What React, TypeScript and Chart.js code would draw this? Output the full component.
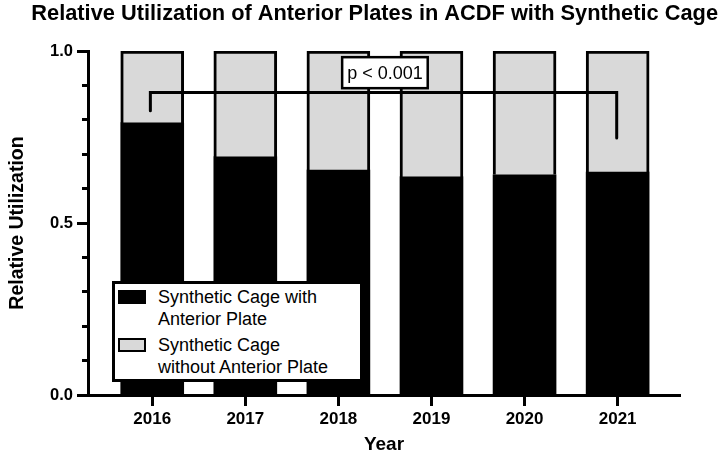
import React, { useEffect, useRef } from "react";
import { Chart, registerables } from "chart.js";

Chart.register(...registerables);

const chartTitle = "Relative Utilization of Anterior Plates in ACDF with Synthetic Cage";
const xAxisTitle = "Year";
const yAxisTitle = "Relative Utilization";
const years = [2016, 2017, 2018, 2019, 2020, 2021];
const yearLabels = ["2016", "2017", "2018", "2019", "2020", "2021"];
const withPlate = [0.791, 0.692, 0.654, 0.634, 0.64, 0.648];
const withoutPlate = [0.209, 0.308, 0.346, 0.366, 0.36, 0.352];
const seriesLines = [
  ["Synthetic Cage with", "Anterior Plate"],
  ["Synthetic Cage", "without Anterior Plate"],
];
const seriesColors = ["#000000", "#d9d9d9"];
const yMajorTicks = [0, 0.5, 1.0];
const yMinorTicks = [0, 0.1, 0.2, 0.3, 0.4, 0.5, 0.6, 0.7, 0.8, 0.9, 1.0];
const xRange = [2015.31, 2021.67];
const bracketX = [2015.98, 2015.98, 2020.99, 2020.99];
const bracketY = [0.826, 0.879, 0.879, 0.747];
const pValueText = "p < 0.001";
const pValueX = 2018.5;
const pValueY = 0.937;

const FONT = '"Liberation Sans", Arial, Helvetica, sans-serif';

const pLabelPlugin = {
  id: "pLabel",
  afterDatasetsDraw(chart: any) {
    const { ctx, scales } = chart;
    const cx = scales.x.getPixelForValue(pValueX);
    const cy = scales.y.getPixelForValue(pValueY);
    ctx.save();
    ctx.font = `18px ${FONT}`;
    const tw = ctx.measureText(pValueText).width;
    const w = tw + 10;
    const h = 31;
    ctx.fillStyle = "#ffffff";
    ctx.fillRect(cx - w / 2, cy - h / 2, w, h);
    ctx.lineWidth = 2.5;
    ctx.strokeStyle = "#000000";
    ctx.strokeRect(cx - w / 2, cy - h / 2, w, h);
    ctx.fillStyle = "#000000";
    ctx.textAlign = "center";
    ctx.textBaseline = "middle";
    ctx.fillText(pValueText, cx, cy + 1);
    ctx.restore();
  },
};

export default function App() {
  const canvasRef = useRef<HTMLCanvasElement | null>(null);

  useEffect(() => {
    if (!canvasRef.current) return;
    const chart = new Chart(canvasRef.current, {
      type: "bar",
      data: {
        datasets: [
          {
            type: "line",
            label: "bracket",
            data: bracketX.map((x, i) => ({ x, y: bracketY[i] })),
            borderColor: "#000000",
            borderWidth: 3,
            pointRadius: 0,
            fill: false,
            tension: 0,
            order: -1,
            stack: "bracket",
            borderCapStyle: "round",
            borderJoinStyle: "miter",
          } as any,
          {
            type: "bar",
            label: seriesLines[0].join(" "),
            data: years.map((x, i) => ({ x, y: withPlate[i] })),
            backgroundColor: seriesColors[0],
            borderWidth: 0,
            barThickness: 63,
          } as any,
          {
            type: "bar",
            label: seriesLines[1].join(" "),
            data: years.map((x, i) => ({ x, y: withoutPlate[i] })),
            backgroundColor: seriesColors[1],
            borderColor: "#000000",
            borderWidth: 3,
            barThickness: 63,
          } as any,
        ],
      },
      options: {
        animation: false,
        responsive: false,
        layout: { padding: { left: 0, right: 4, top: 0, bottom: 0 } },
        plugins: {
          legend: { display: false },
          tooltip: { enabled: false },
          title: {
            display: true,
            text: chartTitle,
            color: "#000000",
            align: "end",
            font: { family: FONT, size: 21.8, weight: "bold" },
            padding: { top: 1, bottom: 51 - 1 - 21.8 * 1.2 },
          },
        },
        scales: {
          x: {
            type: "linear",
            min: xRange[0],
            max: xRange[1],
            stacked: true,
            offset: false,
            afterBuildTicks: (s: any) => {
              s.ticks = years.map((v) => ({ value: v }));
            },
            afterFit: (s: any) => {
              s.height = 61;
            },
            grid: {
              display: true,
              offset: false,
              drawOnChartArea: false,
              drawTicks: true,
              tickLength: 11,
              tickWidth: 3,
              tickColor: "#000000",
            },
            border: { display: true, color: "#000000", width: 3 },
            ticks: {
              callback: (v: any) => yearLabels[years.indexOf(Number(v))] ?? "",
              color: "#000000",
              font: { family: FONT, size: 17, weight: "bold" },
              padding: 3,
              maxRotation: 0,
              autoSkip: false,
            },
            title: {
              display: true,
              text: xAxisTitle,
              color: "#000000",
              font: { family: FONT, size: 19, weight: "bold" },
              padding: { top: 0, bottom: 0 },
            },
          },
          y: {
            type: "linear",
            position: "left",
            min: 0,
            max: 1,
            stacked: true,
            weight: 1,
            afterBuildTicks: (s: any) => {
              s.ticks = yMajorTicks.map((v) => ({ value: v }));
            },
            afterFit: (s: any) => {
              s.width = 88;
            },
            grid: {
              display: true,
              drawOnChartArea: false,
              tickLength: 11,
              tickWidth: 3,
              tickColor: "#000000",
            },
            border: { display: true, color: "#000000", width: 3 },
            ticks: {
              callback: (v: any) => Number(v).toFixed(1),
              color: "#000000",
              font: { family: FONT, size: 16.5, weight: "bold" },
              padding: 4,
            },
            title: {
              display: true,
              text: yAxisTitle,
              color: "#000000",
              font: { family: FONT, size: 19.5, weight: "bold" },
              padding: { top: 6, bottom: 0 },
            },
          },
          yMinor: {
            type: "linear",
            position: "left",
            min: 0,
            max: 1,
            weight: 0,
            afterBuildTicks: (s: any) => {
              s.ticks = yMinorTicks.map((v) => ({ value: v }));
            },
            afterFit: (s: any) => {
              s.width = 0;
            },
            grid: {
              display: true,
              drawOnChartArea: false,
              tickLength: 6,
              tickWidth: 3,
              tickColor: "#000000",
            },
            border: { display: false },
            ticks: { display: false },
          },
          padRight: {
            type: "linear",
            position: "right",
            min: 0,
            max: 1,
            afterFit: (s: any) => {
              s.width = 38;
            },
            grid: { display: false },
            border: { display: false },
            ticks: { display: false },
          },
        },
      } as any,
      plugins: [pLabelPlugin],
    });
    return () => chart.destroy();
  }, []);

  return (
    <div
      style={{
        position: "fixed",
        left: 0,
        top: 0,
        width: 722,
        height: 456,
        background: "#ffffff",
      }}
    >
      <canvas ref={canvasRef} width={722} height={456} style={{ display: "block" }} />
      <div
        style={{
          position: "absolute",
          left: 112,
          top: 281,
          width: 251,
          height: 101,
          boxSizing: "border-box",
          border: "3px solid #000",
          background: "#fff",
          fontFamily: FONT,
          fontSize: 18,
          lineHeight: "22.5px",
          color: "#000",
        }}
      >
        {seriesLines.map((lines, i) => (
          <div
            key={i}
            style={{ position: "absolute", left: 3, top: 1.5 + i * 48, display: "flex" }}
          >
            <div
              style={{
                width: 28,
                height: 14,
                boxSizing: "border-box",
                background: seriesColors[i],
                border: "2px solid #000",
                marginTop: 4,
                marginRight: 12,
                flex: "none",
              }}
            />
            <div>
              {lines.map((l, j) => (
                <div key={j} style={{ whiteSpace: "nowrap" }}>
                  {l}
                </div>
              ))}
            </div>
          </div>
        ))}
      </div>
    </div>
  );
}
